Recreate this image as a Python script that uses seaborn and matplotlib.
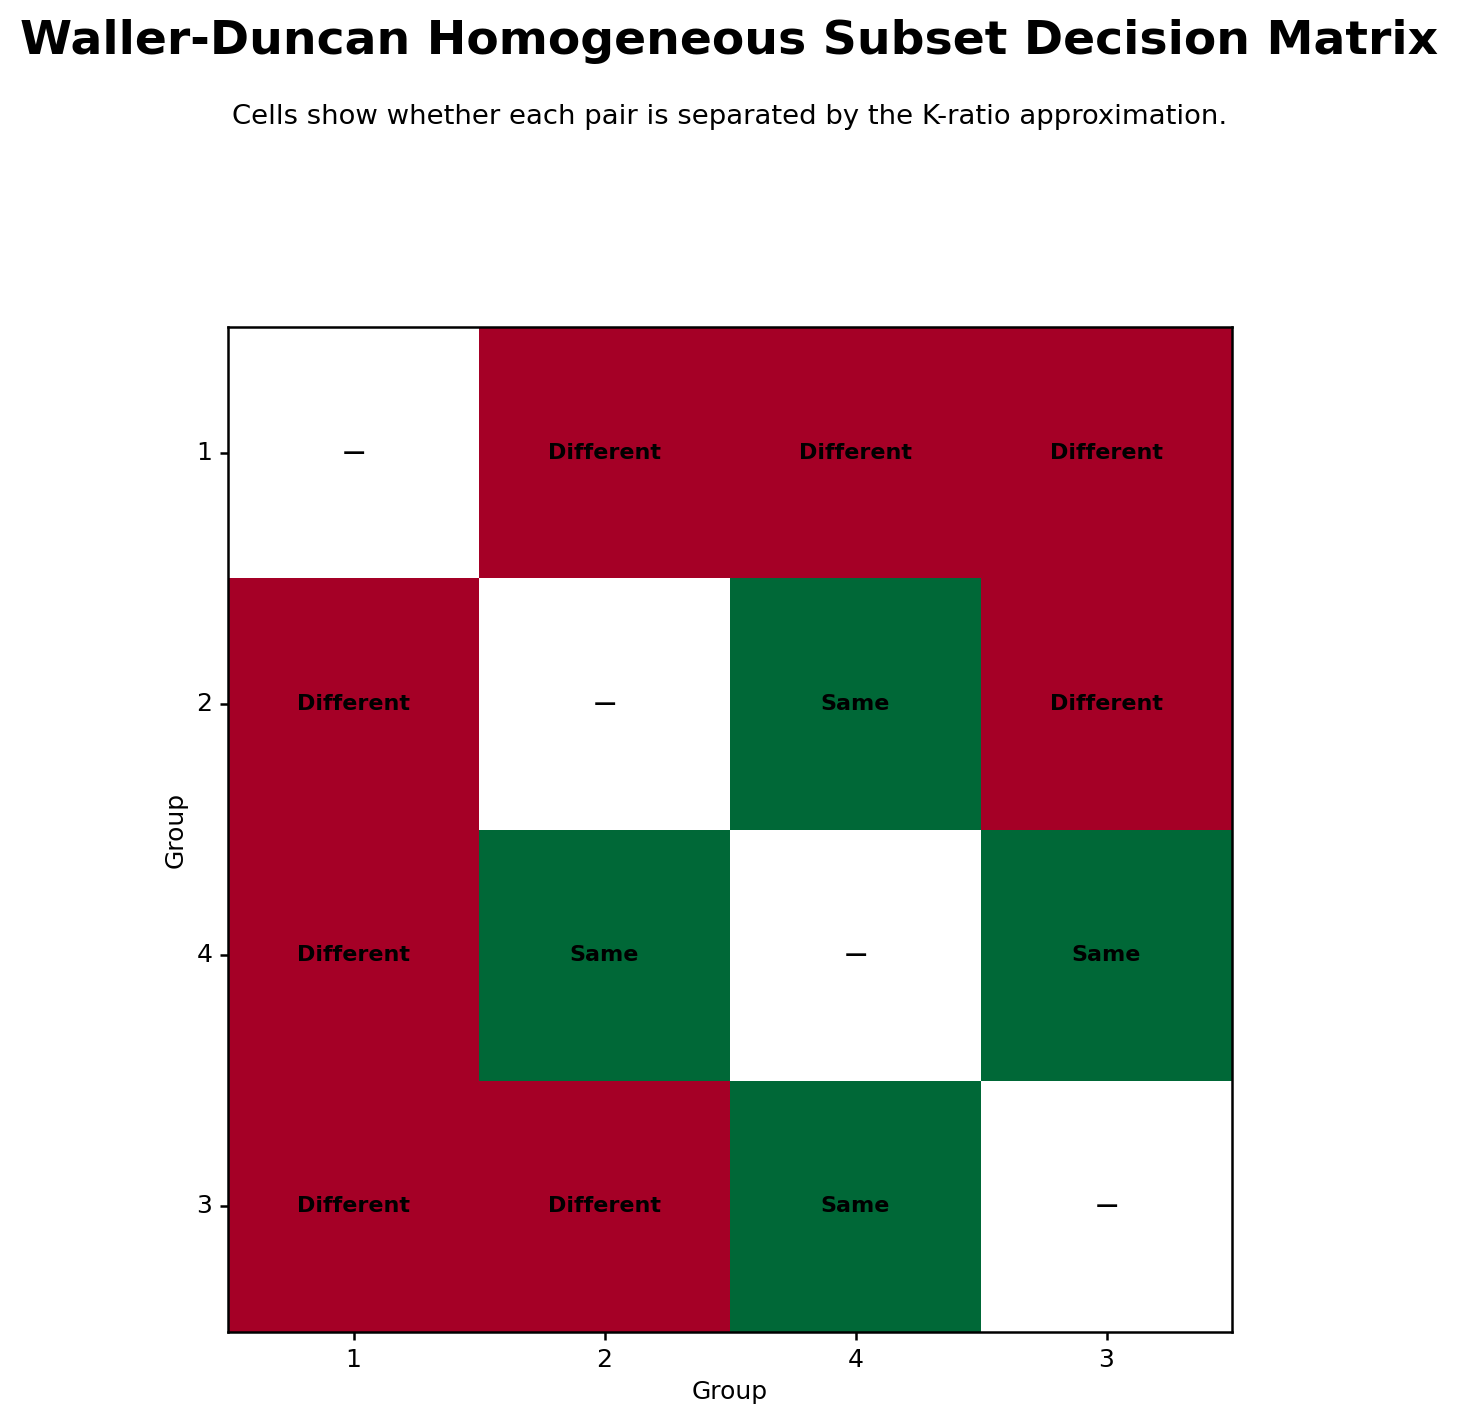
import numpy as np
import pandas as pd
import matplotlib
matplotlib.use("Agg")
import matplotlib.pyplot as plt
import seaborn as sns

groups = ["1", "2", "4", "3"]
# 1 = Same (not separated), 0 = Different (separated), nan = diagonal
row_1 = [np.nan, 0, 0, 0]
row_2 = [0, np.nan, 1, 0]
row_4 = [0, 1, np.nan, 1]
row_3 = [0, 0, 1, np.nan]

title = "Waller-Duncan Homogeneous Subset Decision Matrix"
subtitle = "Cells show whether each pair is separated by the K-ratio approximation."

mat = pd.DataFrame([row_1, row_2, row_4, row_3], index=groups, columns=groups)
labels = mat.apply(lambda col: col.map(lambda v: "—" if pd.isna(v) else ("Same" if v == 1 else "Different")))

fig = plt.figure(figsize=(1459 / 150, 1425 / 150), dpi=150)
ax = fig.add_axes([228 / 1459, 1 - 1332 / 1425, 1004 / 1459, 1005 / 1425])

annot_kw = {"fontsize": 10.7, "fontweight": "bold", "color": "black"}
sns.heatmap(mat, ax=ax, cmap="RdYlGn", vmin=0, vmax=1, cbar=False,
            annot=labels.values, fmt="", square=False, annot_kws=annot_kw)

# seaborn skips annotations on NaN (diagonal) cells; add them explicitly
for i in range(len(groups)):
    for j in range(len(groups)):
        if pd.isna(mat.iat[i, j]):
            ax.text(j + 0.5, i + 0.5, labels.iat[i, j], ha="center", va="center", **annot_kw)

for sp in ax.spines.values():
    sp.set_visible(True)
    sp.set_linewidth(1.2)
    sp.set_color("black")

ax.tick_params(axis="both", length=4, width=1.2, labelsize=12)
ax.set_yticklabels(groups, rotation=0)
ax.set_xticklabels(groups, rotation=0)
ax.set_xlabel("Group", fontsize=12)
ax.set_ylabel("Group", fontsize=12)

fig.text(0.5, 1 - 41 / 1425, title, ha="center", va="center", fontsize=22.7, fontweight="bold")
fig.text(0.5, 1 - 117 / 1425, subtitle, ha="center", va="center", fontsize=13.2)

fig.savefig("out.png", dpi=150)
